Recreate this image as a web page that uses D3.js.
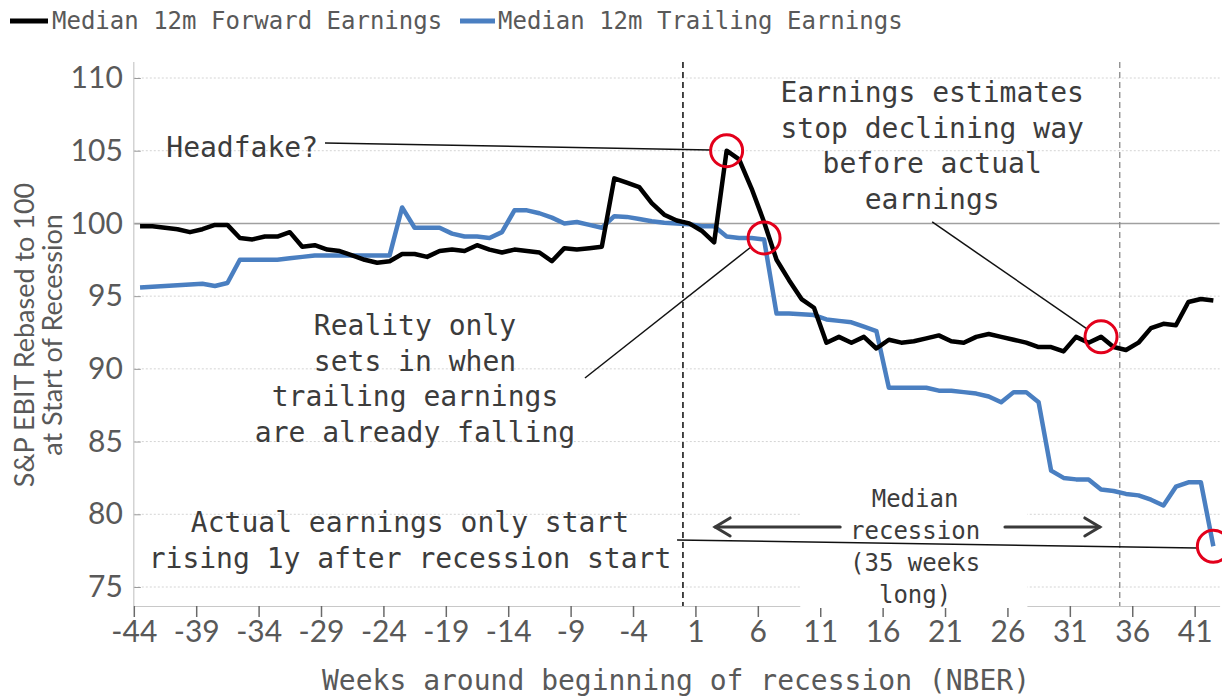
<!DOCTYPE html>
<html><head><meta charset="utf-8">
<script src="https://cdn.jsdelivr.net/npm/d3@7"></script>
<style>body{margin:0;background:#fff}svg{display:block}</style>
</head><body><svg id="c" width="1222" height="696"></svg>
<script>
// ---------------- data ----------------
const weeks = [-44,-43,-42,-41,-40,-39,-38,-37,-36,-35,-34,-33,-32,-31,-30,-29,-28,-27,-26,-25,-24,-23,-22,-21,-20,
  -19,-18,-17,-16,-15,-14,-13,-12,-11,-10,-9,-8,-7,-6,-5,-4,-3,-2,-1,0,1,2,3,4,5,6,7,8,9,10,
  11,12,13,14,15,16,17,18,19,20,21,22,23,24,25,26,27,28,29,30,31,32,33,34,35,36,37,38,39,40,41,42];

const forwardEarnings = [99.8,99.8,99.7,99.6,99.4,99.6,99.9,99.9,99.0,98.9,99.1,99.1,99.4,98.4,98.5,98.2,98.1,97.8,97.5,97.3,97.4,97.9,97.9,97.7,98.1,
  98.2,98.1,98.5,98.2,98.0,98.2,98.1,98.0,97.4,98.3,98.2,98.3,98.4,103.1,102.8,102.5,101.4,100.6,100.2,100.0,99.5,98.7,105.0,104.4,102.4,100.1,97.5,96.1,94.8,94.2,
  91.8,92.2,91.8,92.2,91.4,92.0,91.8,91.9,92.1,92.3,91.9,91.8,92.2,92.4,92.2,92.0,91.8,91.5,91.5,91.2,92.2,91.8,92.2,91.5,91.3,91.8,92.8,93.1,93.0,94.6,94.8,94.7];

const trailingEarnings = [95.6,95.65,95.7,95.75,95.8,95.85,95.7,95.9,97.5,97.5,97.5,97.5,97.6,97.7,97.8,97.8,97.8,97.8,97.8,97.8,97.8,101.1,99.7,99.7,99.7,
  99.3,99.1,99.1,99.0,99.4,100.9,100.9,100.7,100.4,100.0,100.1,99.9,99.7,100.5,100.45,100.3,100.15,100.05,100.0,99.95,99.8,99.8,99.1,99.0,99.0,98.9,93.8,93.8,93.75,93.7,
  93.4,93.3,93.2,92.9,92.6,88.7,88.7,88.7,88.7,88.5,88.5,88.4,88.3,88.1,87.7,88.4,88.4,87.7,83.0,82.5,82.4,82.4,81.7,81.6,81.4,81.3,81.0,80.6,81.9,82.2,82.2,77.8];

const xTickLabels = [-44,-39,-34,-29,-24,-19,-14,-9,-4,1,6,11,16,21,26,31,36,41];
const yTickLabels = [75,80,85,90,95,100,105,110];
const seriesNames = ["Median 12m Forward Earnings","Median 12m Trailing Earnings"];
const recessionMarks = [-0.5, 34.5];           // recession start / median end (weeks)
const highlights = [[3,105.0],[6,99.0],[33,92.2],[42,77.8]];  // circled points (week, value)

const annotations = [
  {lines:["Headfake?"], w:-29.74, v:104.57, anchor:"end", size:28, lh:35.5},
  {lines:["Earnings estimates","stop declining way","before actual","earnings"], w:19.47, v:108.35, anchor:"middle", size:28, lh:35.6},
  {lines:["Reality only","sets in when","trailing earnings","are already falling"], w:-21.97, v:92.33, anchor:"middle", size:28, lh:35.7},
  {lines:["Actual earnings only start","rising 1y after recession start"], w:-22.37, v:78.78, anchor:"middle", size:28, lh:36},
  {lines:["Median","recession","(35 weeks","long)"], w:18.1, v:80.5, anchor:"middle", size:24, lh:32}
];
const leaders = [
  [[-29.18,105.53],[1.74,105.05]],
  [[19.47,100.1],[31.9,92.74]],
  [[-8.35,89.37],[4.95,98.38]],
  [[-0.97,78.23],[40.7,77.68]]
];
const arrows = [[[12.1,79.13],[2.08,79.13]],[[25.3,79.13],[32.9,79.13]]];

// ---------------- chart ----------------
const svg = d3.select("#c");
const x = d3.scaleLinear().domain([-44.5, 42.5]).range([133.8, 1219.6]);
const y = d3.scaleLinear().domain([75, 110]).range([587, 78]);
const plotBottom = 606, plotTop = 62;
const mono = "'DejaVu Sans Mono', monospace";
const sans = "Lato, 'Open Sans', sans-serif";

// gridlines
svg.append("g").selectAll("line").data(yTickLabels).join("line")
  .attr("x1", x.range()[0]).attr("x2", x.range()[1])
  .attr("y1", d => y(d)).attr("y2", d => y(d))
  .attr("stroke", d => d === 100 ? "#a0a0a0" : "#d4d4d4")
  .attr("stroke-width", d => d === 100 ? 1.6 : 1)
  .attr("stroke-dasharray", d => d === 100 ? null : "2,2");

// y axis
const yAxis = svg.append("g").attr("transform", `translate(${x.range()[0]},0)`)
  .call(d3.axisLeft(y).tickValues(yTickLabels).tickSizeInner(-7).tickSizeOuter(0).tickPadding(11));
yAxis.select(".domain").remove();
yAxis.selectAll(".tick line").attr("stroke", "#9a9a9a");
yAxis.selectAll("text").attr("font-family", sans).attr("font-size", 30).attr("fill", "#595959");
svg.append("line").attr("x1", x.range()[0]).attr("x2", x.range()[0])
  .attr("y1", plotTop).attr("y2", plotBottom).attr("stroke", "#c8c8c8").attr("stroke-width", 1.2);

// x axis: ticks and labels sit on the category boundaries (week - 0.5)
const xAxis = svg.append("g").attr("transform", `translate(0,${plotBottom})`)
  .call(d3.axisBottom(x).tickValues(xTickLabels.map(w => w - 0.5)).tickSizeInner(11).tickSizeOuter(0)
    .tickPadding(4).tickFormat(d => d + 0.5));
xAxis.select(".domain").attr("stroke", "#c8c8c8").attr("stroke-width", 1.2);
xAxis.selectAll(".tick line").attr("stroke", "#6a6a6a").attr("stroke-width", 1.5);
xAxis.selectAll("text").attr("font-family", sans).attr("font-size", 30).attr("fill", "#595959");

// white text box behind the median recession note
svg.append("rect").attr("x", x(8.9)).attr("y", y(82.4))
  .attr("width", x(27.1) - x(8.9)).attr("height", plotBottom + 2 - y(82.4)).attr("fill", "#fff");

// recession markers
svg.append("g").selectAll("line").data(recessionMarks).join("line")
  .attr("x1", d => x(d)).attr("x2", d => x(d)).attr("y1", plotTop).attr("y2", plotBottom)
  .attr("stroke", (d, i) => i === 0 ? "#333" : "#8a8a8a")
  .attr("stroke-width", (d, i) => i === 0 ? 1.8 : 1.3)
  .attr("stroke-dasharray", "6,4");

// series lines
const line = d3.line().x((d, i) => x(weeks[i])).y(d => y(d));
svg.append("path").datum(trailingEarnings).attr("d", line)
  .attr("fill", "none").attr("stroke", "#4a7fc1").attr("stroke-width", 4.5).attr("stroke-linejoin", "round");
svg.append("path").datum(forwardEarnings).attr("d", line)
  .attr("fill", "none").attr("stroke", "#000").attr("stroke-width", 4.5).attr("stroke-linejoin", "round");

// leader lines
svg.append("g").selectAll("line").data(leaders).join("line")
  .attr("x1", d => x(d[0][0])).attr("y1", d => y(d[0][1]))
  .attr("x2", d => x(d[1][0])).attr("y2", d => y(d[1][1]))
  .attr("stroke", "#111").attr("stroke-width", 1.5);

// arrows
const ag = svg.append("g").attr("stroke", "#3a3a3a").attr("stroke-width", 3).attr("fill", "none").attr("stroke-linecap", "round");
arrows.forEach(a => {
  const x1 = x(a[0][0]), y1 = y(a[0][1]), x2 = x(a[1][0]), y2 = y(a[1][1]);
  const dir = Math.sign(x2 - x1);
  ag.append("line").attr("x1", x1).attr("y1", y1).attr("x2", x2).attr("y2", y2);
  ag.append("path").attr("d", `M${x2 - dir * 15},${y2 - 9} L${x2},${y2} L${x2 - dir * 15},${y2 + 9}`)
    .attr("stroke-linejoin", "miter");
});

// highlight circles
svg.append("g").selectAll("circle").data(highlights).join("circle")
  .attr("cx", d => x(d[0])).attr("cy", d => y(d[1])).attr("r", 16)
  .attr("fill", "none").attr("stroke", "#e3001b").attr("stroke-width", 3);

// annotation texts
annotations.forEach(a => {
  const t = svg.append("text").attr("x", x(a.w)).attr("y", y(a.v))
    .attr("text-anchor", a.anchor).attr("font-family", mono).attr("font-size", a.size).attr("fill", "#3c3c3c");
  a.lines.forEach((l, i) => t.append("tspan").attr("x", x(a.w)).attr("dy", i === 0 ? 0 : a.lh).text(l));
});

// axis titles
svg.append("text").attr("x", 676).attr("y", 690).attr("text-anchor", "middle")
  .attr("font-family", mono).attr("font-size", 28).attr("fill", "#595959")
  .text("Weeks around beginning of recession (NBER)");
const yt = svg.append("text").attr("transform", "translate(0,335) rotate(-90)")
  .attr("text-anchor", "middle").attr("font-family", sans).attr("font-size", 27).attr("fill", "#595959");
yt.append("tspan").attr("x", 0).attr("y", 34).text("S&P EBIT Rebased to 100");
yt.append("tspan").attr("x", 0).attr("y", 62).text("at Start of Recession");

// legend
const legend = [{name: seriesNames[0], color: "#000", x1: 10, x2: 48, tx: 52},
                {name: seriesNames[1], color: "#4a7fc1", x1: 460, x2: 495, tx: 498}];
const lg = svg.append("g");
legend.forEach(d => {
  lg.append("line").attr("x1", d.x1).attr("x2", d.x2).attr("y1", 21).attr("y2", 21)
    .attr("stroke", d.color).attr("stroke-width", 5);
  lg.append("text").attr("x", d.tx).attr("y", 29).attr("font-family", mono).attr("font-size", 24)
    .attr("fill", "#595959").text(d.name);
});
</script></body></html>
